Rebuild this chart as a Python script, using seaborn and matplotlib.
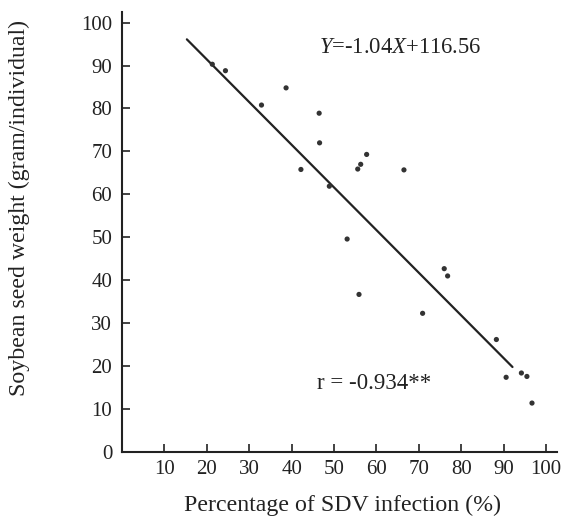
import matplotlib
matplotlib.use("Agg")
import matplotlib.pyplot as plt
import seaborn as sns
import pandas as pd

sns.set_theme(style="ticks")
plt.rcParams["font.family"] = ["Liberation Serif", "DejaVu Serif"]
plt.rcParams["mathtext.fontset"] = "custom"
plt.rcParams["mathtext.rm"] = "Liberation Serif"
plt.rcParams["mathtext.it"] = "Liberation Serif:italic"

# SDV infection (%) vs seed weight
infection = [21.3, 24.4, 32.9, 38.7, 42.2, 46.5, 46.6, 48.9, 53.1, 55.6, 55.9,
             56.3, 57.7, 66.5, 70.9, 76.0, 76.8, 88.3, 90.6, 94.2, 95.5, 96.7]
seed_weight = [90.3, 88.8, 80.8, 84.8, 65.8, 78.9, 72.0, 61.9, 49.6, 65.9, 36.7,
               67.0, 69.3, 65.7, 32.3, 42.7, 41.0, 26.2, 17.4, 18.4, 17.6, 11.4]

# regression line as drawn
fit_x = [15.3, 92.1]
fit_y = [96.1, 19.8]

x_ticks = [10, 20, 30, 40, 50, 60, 70, 80, 90, 100]
y_ticks = [0, 10, 20, 30, 40, 50, 60, 70, 80, 90, 100]

df = pd.DataFrame({"x": infection, "y": seed_weight})
line = pd.DataFrame({"x": fit_x, "y": fit_y})

ink = "#222222"
fig = plt.figure(figsize=(5.64, 5.16), dpi=100)
ax = fig.add_axes([0.2163, 0.124, 0.7713, 0.853])

sns.scatterplot(data=df, x="x", y="y", ax=ax, s=14, color="#333333",
                edgecolor="none", zorder=3)
sns.lineplot(data=line, x="x", y="y", ax=ax, color=ink, linewidth=1.6)

ax.set_xlim(0, 102.6)
ax.set_ylim(0, 102.5)
ax.set_xticks(x_ticks)
ax.set_yticks(y_ticks)
ax.tick_params(direction="in", length=6, width=1.2, labelsize=15,
               colors=ink, pad=6)
ax.tick_params(axis="y", pad=7)
for s in ["top", "right"]:
    ax.spines[s].set_visible(False)
for s in ["left", "bottom"]:
    ax.spines[s].set_linewidth(1.5)
    ax.spines[s].set_color(ink)

ax.set_xlabel("Percentage of SDV infection (%)", fontsize=17.2, color=ink)
ax.set_ylabel("Soybean seed weight (gram/individual)", fontsize=17.2, color=ink)
ax.xaxis.set_label_coords(0.508, -0.098)
ax.yaxis.set_label_coords(-0.211, 0.555)

ax.text(46.5, 94.3, r"$Y$=-1.04$X$+116.56", fontsize=16.3, color=ink,
        va="center", ha="left")
ax.text(46.0, 16.0, "r = -0.934**", fontsize=16.5, color=ink,
        va="center", ha="left")

fig.savefig("out.png", dpi=100)
